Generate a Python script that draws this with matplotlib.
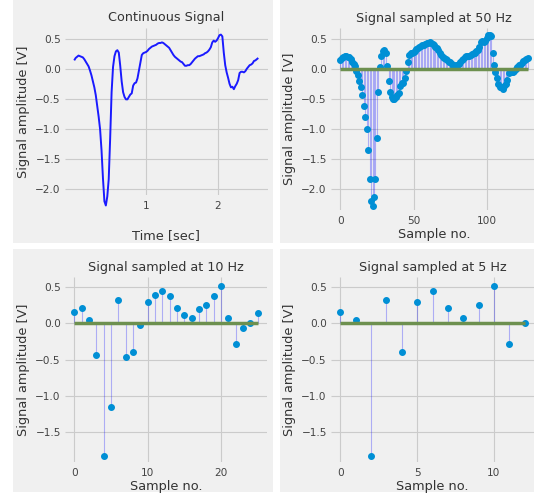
import numpy as np
import matplotlib
matplotlib.use("Agg")
import matplotlib.pyplot as plt
from matplotlib.patches import Rectangle

plt.style.use("fivethirtyeight")

# -----------------------------
# Data
# -----------------------------

fs_high = 50

signal_50hz = [
    0.15, 0.19, 0.21, 0.23, 0.22, 0.21, 0.20, 0.17, 0.13, 0.09,
    0.05, -0.02, -0.10, -0.20, -0.30, -0.43, -0.61, -0.79, -1.00, -1.35,
    -1.82, -2.20, -2.27, -2.12, -1.83, -1.15, -0.38, 0.04, 0.22, 0.30,
    0.32, 0.28, 0.06, -0.20, -0.38, -0.46, -0.50, -0.50, -0.46, -0.42,
    -0.40, -0.27, -0.23, -0.22, -0.15, -0.02, 0.12, 0.24, 0.27, 0.28,
    0.29, 0.31, 0.34, 0.36, 0.38, 0.39, 0.40, 0.41, 0.43, 0.44,
    0.44, 0.45, 0.44, 0.42, 0.40, 0.38, 0.36, 0.32, 0.28, 0.24,
    0.21, 0.19, 0.17, 0.15, 0.13, 0.12, 0.09, 0.06, 0.06, 0.07,
    0.07, 0.09, 0.12, 0.15, 0.18, 0.20, 0.22, 0.22, 0.23, 0.24,
    0.25, 0.27, 0.28, 0.30, 0.33, 0.37, 0.45, 0.48, 0.46, 0.48,
    0.52, 0.57, 0.58, 0.55, 0.28, 0.07, -0.05, -0.14, -0.24, -0.30,
    -0.29, -0.33, -0.28, -0.24, -0.18, -0.06, -0.04, -0.04, -0.05, -0.03,
    0.01, 0.04, 0.07, 0.08, 0.10, 0.14, 0.15, 0.17, 0.19,
]

signal_10hz = [
    0.15, 0.21, 0.05, -0.43, -1.82, -1.15, 0.32, -0.46, -0.40, -0.02,
    0.29, 0.39, 0.44, 0.38, 0.21, 0.12, 0.07, 0.20, 0.25, 0.37,
    0.52, 0.07, -0.29, -0.06, 0.01, 0.14,
]

signal_5hz = [
    0.15, 0.05, -1.82, 0.32, -0.40, 0.29, 0.44, 0.21, 0.07, 0.25,
    0.52, -0.29, 0.01,
]

time_sec = np.arange(len(signal_50hz)) / fs_high

# -----------------------------
# Style
# -----------------------------

plt.rcParams.update({
    "font.family": "DejaVu Sans",
    "axes.titlesize": 9.2,
    "axes.labelsize": 9.3,
    "xtick.labelsize": 7.6,
    "ytick.labelsize": 7.6,
    "text.color": "#333333",
    "axes.labelcolor": "#333333",
    "xtick.color": "#444444",
    "ytick.color": "#444444",
    "xtick.major.pad": 4,
    "ytick.major.pad": 3,
    "grid.linewidth": 0.8,
})

W, H = 534, 493
fig = plt.figure(figsize=(W / 100, H / 100), dpi=100, facecolor="white")


def panel(x0, y0, x1, y1):
    fig.patches.append(Rectangle(
        (x0 / W, 1 - y1 / H), (x1 - x0) / W, (y1 - y0) / H,
        transform=fig.transFigure, facecolor="#f0f0f0",
        edgecolor="none", zorder=-5
    ))


def px_axes(left, top, right, bottom):
    return fig.add_axes([
        left / W, 1 - bottom / H, (right - left) / W, (bottom - top) / H
    ])


def stem_plot(ax, values, title):
    n = np.arange(len(values))
    markers, stems, base = ax.stem(
        n, values, linefmt="b-", markerfmt="o", basefmt="C3-"
    )
    plt.setp(stems, alpha=0.28, linewidth=0.8)
    plt.setp(markers, color="#008fd5", markersize=4)
    plt.setp(base, linewidth=2.5)
    ax.set_title(title, pad=4)
    ax.set_xlabel("Sample no.", labelpad=1.5)
    ax.set_ylabel("Signal amplitude [V]")


panel(13, 0, 273, 243)
panel(280, 0, 534, 243)
panel(13, 249, 273, 492)
panel(280, 249, 534, 492)

# Continuous signal
ax1 = px_axes(65, 28, 267.5, 195)
ax1.plot(time_sec, signal_50hz, color="#1a1aff", linewidth=1.4,
         clip_on=False)
ax1.set_xticks([1, 2])
ax1.set_ylim(-2.095, 0.69)
ax1.set_title("Continuous Signal", pad=5)
ax1.set_xlabel("Time [sec]", labelpad=13)
ax1.set_ylabel("Signal amplitude [V]")

# 50 Hz
ax2 = px_axes(331, 28, 537, 210)
stem_plot(ax2, signal_50hz, "Signal sampled at 50 Hz")
ax2.set_xticks([0, 50, 100])
ax2.set_ylim(-2.345, 0.69)

# 10 Hz
ax3 = px_axes(65, 277, 267, 462)
stem_plot(ax3, signal_10hz, "Signal sampled at 10 Hz")
ax3.set_xticks([0, 10, 20])
ax3.set_ylim(-1.908, 0.637)

# 5 Hz
ax4 = px_axes(331, 277, 534, 462)
stem_plot(ax4, signal_5hz, "Signal sampled at 5 Hz")
ax4.set_xticks([0, 5, 10])
ax4.set_ylim(-1.908, 0.637)

for ax in [ax1, ax2, ax3, ax4]:
    ax.set_facecolor("#f0f0f0")
    for spine in ax.spines.values():
        spine.set_visible(False)

fig.savefig("out.png", dpi=100, facecolor="white")
